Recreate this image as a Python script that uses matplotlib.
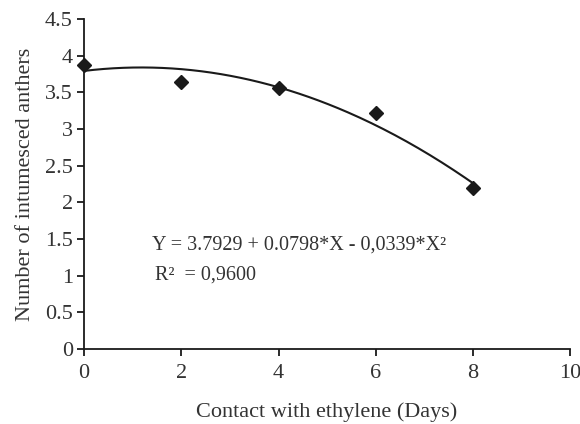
import numpy as np
import matplotlib
matplotlib.use("Agg")
import matplotlib.pyplot as plt

plt.rcParams["font.family"] = ["Liberation Serif", "DejaVu Serif"]

days = [0, 2, 4, 6, 8]
anthers = [3.87, 3.64, 3.56, 3.22, 2.19]

# fitted quadratic, coefficients from the equation shown on the chart
coef = [3.7929, 0.0798, -0.0339]
eq_text = "Y = 3.7929 + 0.0798*X - 0,0339*X²"
r2_text = "R²  = 0,9600"

x_ticks = [0, 2, 4, 6, 8, 10]
y_ticks = [0, 0.5, 1, 1.5, 2, 2.5, 3, 3.5, 4, 4.5]

fig = plt.figure(figsize=(5.8, 4.24), dpi=100)
ax = fig.add_axes([0.145, 0.177, 0.838, 0.778])

xf = np.linspace(days[0], days[-1], 200)
yf = coef[0] + coef[1] * xf + coef[2] * xf ** 2
ax.plot(xf, yf, color="#1a1a1a", linewidth=1.5, zorder=2)
ax.plot(days, anthers, linestyle="none", marker="D", markersize=7,
        color="#1a1a1a", zorder=3, clip_on=False)

ax.set_xlim(0, 10)
ax.set_ylim(0, 4.5)
ax.set_xticks(x_ticks)
ax.set_xticklabels([str(t) for t in x_ticks])
ax.set_yticks(y_ticks)
ax.set_yticklabels([f"{t:g}" for t in y_ticks])

for side in ("top", "right"):
    ax.spines[side].set_visible(False)
for side in ("left", "bottom"):
    ax.spines[side].set_linewidth(1.3)
    ax.spines[side].set_color("#1a1a1a")
ax.tick_params(direction="out", length=5, width=1.3, colors="#1a1a1a",
               labelsize=16, labelcolor="#333333", pad=3)
ax.tick_params(axis="x", pad=6)

ax.set_xlabel("Contact with ethylene (Days)", fontsize=16, color="#333333",
              labelpad=14)
ax.set_ylabel("Number of intumesced anthers", fontsize=16, color="#333333",
              labelpad=7)

ax.text(1.4, 1.36, eq_text, fontsize=14.5, color="#333333")
ax.text(1.45, 0.95, r2_text, fontsize=14.5, color="#333333")

fig.savefig("out.png", dpi=100)
